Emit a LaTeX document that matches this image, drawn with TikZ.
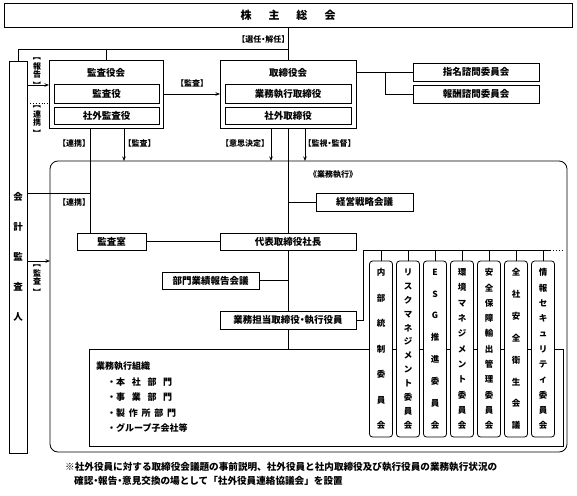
\documentclass[tikz,border=0pt]{standalone}
\usepackage{fontspec}
\setmainfont{Noto Sans CJK JP}
\usetikzlibrary{arrows.meta}
\newcommand\lk{\makebox[0.55em][r]{【}}
\newcommand\rk{\makebox[0.55em][l]{】}}
\newcommand\dt{\makebox[0.5em][c]{・}}
\newcommand\vlk{\rotatebox[origin=c]{-90}{\lk}}
\newcommand\vrk{\rotatebox[origin=c]{-90}{\rk}}
\begin{document}
\begin{tikzpicture}[x=1pt,y=-1pt,
  bx/.style={draw, line width=0.8pt, inner sep=0pt, outer sep=0pt, fill=white, font=\fontsize{9.5}{10}\selectfont\bfseries},
  tx/.style={inner sep=0pt, font=\fontsize{9.5}{10}\selectfont\bfseries},
  lab/.style={inner sep=0pt, font=\fontsize{8}{8}\selectfont\bfseries},
  vlab/.style={inner sep=0pt, align=center, font=\fontsize{8}{8.5}\selectfont\bfseries},
  cn/.style={line width=0.9pt},
  ar/.style={line width=0.9pt, -{Stealth[length=4.5pt,width=3.5pt]}},
  cbox/.style={draw, line width=0.8pt, rounded corners=3pt, fill=white, inner sep=0pt, outer sep=0pt, minimum width=23pt, minimum height=176pt, align=center}
]
\useasboundingbox (0,0) rectangle (577,495);

% frames
\node[draw, line width=0.8pt, rounded corners=8pt, minimum width=517pt, minimum height=291pt, inner sep=0pt, outer sep=0pt] (exec) at (308.5,306.5) {};
\node[lab, anchor=west] (execT) at (309,175) {《業務執行》};
\node[draw, line width=0.8pt, minimum width=474pt, minimum height=97pt, inner sep=0pt, outer sep=0pt] (org) at (326,397.5) {};
\node[anchor=north west, align=left, inner sep=0pt, font=\fontsize{9}{15.5}\selectfont\bfseries] (orgT) at (96,362)
 {業務執行組織\\
  \hspace{11pt}・\makebox[56pt][s]{本\hfill 社\hfill 部\hfill 門}\\
  \hspace{11pt}・\makebox[56pt][s]{事\hfill 業\hfill 部\hfill 門}\\
  \hspace{11pt}・\makebox[60pt][s]{製\hfill 作\hfill 所\hfill 部\hfill 門}\\
  \hspace{11pt}・グループ子会社等};

% top
\node[bx, minimum width=568pt, minimum height=24pt, font=\fontsize{11}{12}\selectfont\bfseries] (share) at (288,15) {株\hspace{17pt}主\hspace{17pt}総\hspace{17pt}会};
\node[bx, minimum width=18pt, minimum height=392pt, align=center, font=\fontsize{9.5}{30}\selectfont\bfseries] (aud) at (18,257) {会\\計\\監\\査\\人};

\node[bx, minimum width=114pt, minimum height=68pt] (ksk) at (106,94) {};
\node[tx] (kskT) at (106,73) {監査役会};
\node[bx, minimum width=105pt, minimum height=19pt] (ksy) at (106.5,93.5) {監査役};
\node[bx, minimum width=105pt, minimum height=17pt] (sgk) at (106.5,115.5) {社外監査役};

\node[bx, minimum width=136pt, minimum height=68pt] (trk) at (288,94) {};
\node[tx] (trkT) at (288,73) {取締役会};
\node[bx, minimum width=126pt, minimum height=19pt] (gst) at (288,93.5) {業務執行取締役};
\node[bx, minimum width=126pt, minimum height=17pt] (sgt) at (288,115.5) {社外取締役};

\node[bx, minimum width=126pt, minimum height=18pt] (nom) at (476,72) {指名諮問委員会};
\node[bx, minimum width=126pt, minimum height=18pt] (rem) at (476,94) {報酬諮問委員会};

\node[bx, minimum width=97pt, minimum height=18pt] (keiei) at (364.5,202) {経営戦略会議};
\node[bx, minimum width=69pt, minimum height=17pt] (ksh) at (111.5,241.5) {監査室};
\node[bx, minimum width=136pt, minimum height=17pt] (daihyo) at (288,241.5) {代表取締役社長};
\node[bx, minimum width=97pt, minimum height=17pt] (bumon) at (210.5,280.5) {部門業績報告会議};
\node[bx, minimum width=136pt, minimum height=18pt] (tanto) at (288,320) {業務担当取締役\dt 執行役員};

% committees
\node[cbox, font=\fontsize{8.5}{25.5}\selectfont\bfseries] (c1) at (381,349) {内\\部\\統\\制\\委\\員\\会};
\node[cbox, font=\fontsize{8.5}{13.9}\selectfont\bfseries] (c2) at (408,349) {リ\\ス\\ク\\マ\\ネ\\ジ\\メ\\ン\\ト\\委\\員\\会};
\node[cbox, font=\fontsize{8.5}{21.9}\selectfont\bfseries] (c3) at (435,349) {E\\S\\G\\推\\進\\委\\員\\会};
\node[cbox, font=\fontsize{8.5}{15.3}\selectfont\bfseries] (c4) at (462,349) {環\\境\\マ\\ネ\\ジ\\メ\\ン\\ト\\委\\員\\会};
\node[cbox, font=\fontsize{8.5}{15.3}\selectfont\bfseries] (c5) at (489,349) {安\\全\\保\\障\\輸\\出\\管\\理\\委\\員\\会};
\node[cbox, font=\fontsize{8.5}{21.9}\selectfont\bfseries] (c6) at (516,349) {全\\社\\安\\全\\衛\\生\\会\\議};
\node[cbox, font=\fontsize{8.5}{15.3}\selectfont\bfseries] (c7) at (543,349) {情\\報\\セ\\キ\\ュ\\リ\\テ\\ィ\\委\\員\\会};

% helper coordinates
\coordinate (sel) at (288,49);
\coordinate (y85) at (0,85);
\coordinate (y103) at (0,103);
\coordinate (y193) at (0,193);
\coordinate (y261) at (0,261);
\coordinate (x90) at (90,0);
\coordinate (x124) at (124,0);
\coordinate (x271) at (271,0);
\coordinate (x305) at (305,0);
\coordinate (br) at (385,72);
\coordinate (busE) at (550,250);

% connectors
\draw[cn] (share.south) -- (trk.north);
\draw[cn] (aud.north) |- (sel);
\draw[cn] (ksk.north) -- (ksk.north |- sel);
\draw[ar] (aud.east |- y85) -- (ksk.west |- y85);
\draw[cn, dotted] (aud.east |- y103) -- (ksk.west |- y103);
\draw[ar] (ksk.east) -- (trk.west);
\draw[cn] (trk.east |- nom.west) -- (nom.west);
\draw[cn] (br) |- (rem.west);
\draw[cn] (ksk.south -| x90) -- (ksh.north -| x90);
\draw[cn] (aud.east |- y193) -- (x90 |- y193);
\draw[ar] (ksk.south -| x124) -- (exec.north -| x124);
\draw[ar] (trk.south -| x271) -- (exec.north -| x271);
\draw[ar] (trk.south -| x305) -- (exec.north -| x305);
\draw[cn] (trk.south) -- (daihyo.north);
\draw[cn] (daihyo.south) -- (tanto.north);
\draw[cn] (tanto.south) -- (org.north -| tanto.south);
\draw[cn] (keiei.west -| trk.south) -- (keiei.west);
\draw[cn] (ksh.east) -- (daihyo.west);
\draw[cn] (bumon.east) -- (bumon.east -| daihyo.south);
\draw[ar] (aud.east |- y261) -- (exec.west |- y261);
\draw[cn] (tanto.east) -- ++(7,0) |- (busE);
\draw[cn, dotted] (busE) -- ++(13,0);
\foreach \i in {1,...,7} \draw[cn] (c\i.north) -- (c\i.north |- busE);

% labels
\node[lab, anchor=east] (lsel) at (286,39) {\lk 選任\dt 解任\rk};
\node[vlab] (lrep) at (37,71) {\vlk\\報\\告\\\vrk};
\node[vlab] (lren1) at (37,119) {\vlk\\連\\携\\\vrk};
\node[vlab] (laud3) at (37,278) {\vlk\\監\\査\\\vrk};
\node[lab] (laud1) at (192,83) {\lk 監査\rk};
\node[lab] (lren2) at (74,143) {\lk 連携\rk};
\node[lab] (laud2) at (139.5,143) {\lk 監査\rk};
\node[lab] (lish) at (245,143) {\lk 意思決定\rk};
\node[lab, anchor=west] (lkan) at (307,143) {\lk 監視\dt 監督\rk};
\node[lab] (lren3) at (74,202) {\lk 連携\rk};

% footnote
\node[anchor=west, inner sep=0pt, font=\fontsize{9.6}{10}\selectfont\bfseries] (fn1) at (65,467) {※社外役員に対する取締役会議題の事前説明、社外役員と社内取締役及び執行役員の業務執行状況の};
\node[anchor=west, inner sep=0pt, font=\fontsize{9.6}{10}\selectfont\bfseries] (fn2) at (74,481) {確認\dt 報告\dt 意見交換の場として「社外役員連絡協議会」を設置};
\end{tikzpicture}
\end{document}
